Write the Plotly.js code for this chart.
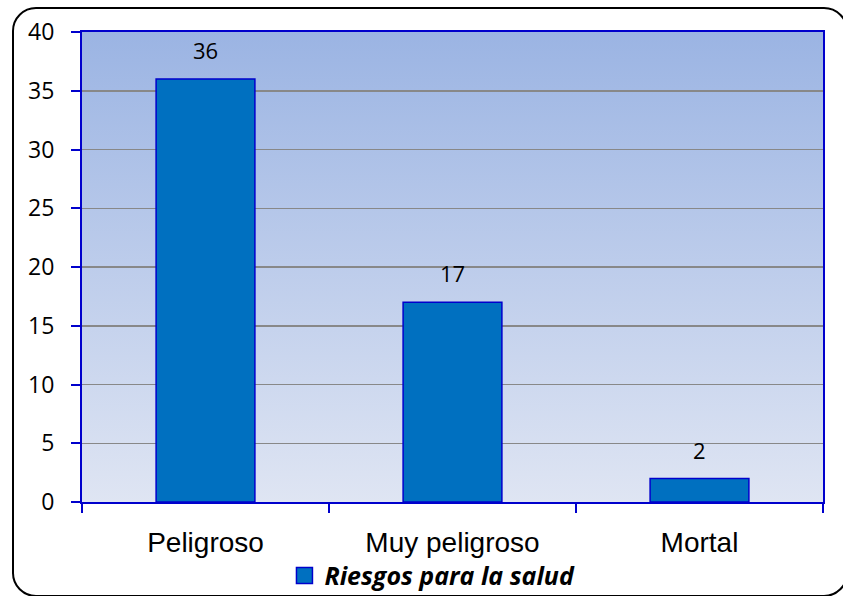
<!DOCTYPE html>
<html>
<head>
<meta charset="utf-8">
<script src="https://cdn.plot.ly/plotly-3.0.1.min.js"></script>
<style>
  html, body { margin: 0; padding: 0; background: #fff; overflow: hidden; }
  #wrap { position: relative; width: 843px; height: 596px; overflow: hidden; }
  #chart { width: 843px; height: 596px; }
  #frame { position: absolute; left: 12px; top: 7px; width: 836px; height: 590px;
           border: 2px solid #000; border-radius: 24px; pointer-events: none; box-sizing: border-box; }
</style>
</head>
<body>
<div id="wrap">
  <div id="chart"></div>
  <div id="frame"></div>
</div>
<script>
const categories = ["Peligroso", "Muy peligroso", "Mortal"];
const values = [36, 17, 2];
const seriesName = "Riesgos para la salud";
const yTicks = [0, 5, 10, 15, 20, 25, 30, 35, 40];

const gradSvg = '<svg xmlns="http://www.w3.org/2000/svg" width="100" height="100" preserveAspectRatio="none">' +
  '<defs><linearGradient id="g" x1="0" y1="0" x2="0" y2="1">' +
  '<stop offset="0" stop-color="#9bb4e3"/><stop offset="1" stop-color="#dfe5f3"/>' +
  '</linearGradient></defs><rect width="100" height="100" fill="url(#g)"/></svg>';
const gradUri = 'data:image/svg+xml;charset=utf-8,' + encodeURIComponent(gradSvg);

const labelAnnotations = categories.map((c, i) => ({
  x: c, y: values[i], xref: 'x', yref: 'y',
  text: String(values[i]), showarrow: false,
  yanchor: 'bottom', yshift: 12,
  font: {family: 'Open Sans, Noto Sans, sans-serif', size: 22, color: '#000'}
}));

const barTrace = {
  type: 'bar',
  x: categories,
  y: values,
  name: seriesName,
  legendgroup: 'g1',
  showlegend: false,
  width: 0.4,
  marker: {color: '#0070c0', line: {color: '#0000cc', width: 1.5}},
  hoverinfo: 'none'
};
// legend entry for the bar series (square key)
const legendKey = {
  type: 'scatter', mode: 'markers',
  x: [null], y: [null],
  name: seriesName, legendgroup: 'g1', showlegend: true,
  marker: {symbol: 'square', size: 16, color: '#0070c0', line: {color: '#0000cc', width: 1.5}},
  hoverinfo: 'none'
};

const layout = {
  width: 843, height: 596,
  margin: {l: 82, r: 20, t: 32, b: 94, pad: 0},
  paper_bgcolor: 'rgba(0,0,0,0)',
  plot_bgcolor: 'rgba(0,0,0,0)',
  showlegend: true,
  legend: {
    orientation: 'h', xref: 'container', yref: 'container',
    x: 0.513, xanchor: 'center', y: 0.034, yanchor: 'middle',
    font: {family: 'Open Sans, Noto Sans, sans-serif', size: 25, color: '#000', weight: 'bold', style: 'italic'},
    bgcolor: 'rgba(0,0,0,0)', itemwidth: 30
  },
  xaxis: {
    type: 'category',
    tickson: 'boundaries',
    ticks: 'outside', ticklen: 9, tickwidth: 2, tickcolor: '#0000cc',
    showline: true, linecolor: '#0000cc', linewidth: 2, mirror: true,
    showgrid: false,
    ticklabelstandoff: 14,
    tickfont: {family: 'Liberation Sans, Arial, sans-serif', size: 28, color: '#000'},
    fixedrange: true
  },
  yaxis: {
    range: [0, 40],
    tickvals: yTicks,
    ticktext: yTicks.map(String),
    ticks: 'outside', ticklen: 9, tickwidth: 2, tickcolor: '#0000cc',
    showline: true, linecolor: '#0000cc', linewidth: 2, mirror: true,
    showgrid: true, gridcolor: '#888888', gridwidth: 1.5,
    zeroline: false,
    ticklabelstandoff: 12,
    tickfont: {family: 'Open Sans, Noto Sans, sans-serif', size: 23, color: '#000'},
    fixedrange: true
  },
  images: [{
    source: gradUri, xref: 'paper', yref: 'paper', x: 0, y: 1, sizex: 1, sizey: 1,
    xanchor: 'left', yanchor: 'top', sizing: 'stretch', layer: 'below'
  }],
  annotations: labelAnnotations
};

Plotly.newPlot('chart', [barTrace, legendKey], layout, {displayModeBar: false, staticPlot: true});
</script>
</body>
</html>
